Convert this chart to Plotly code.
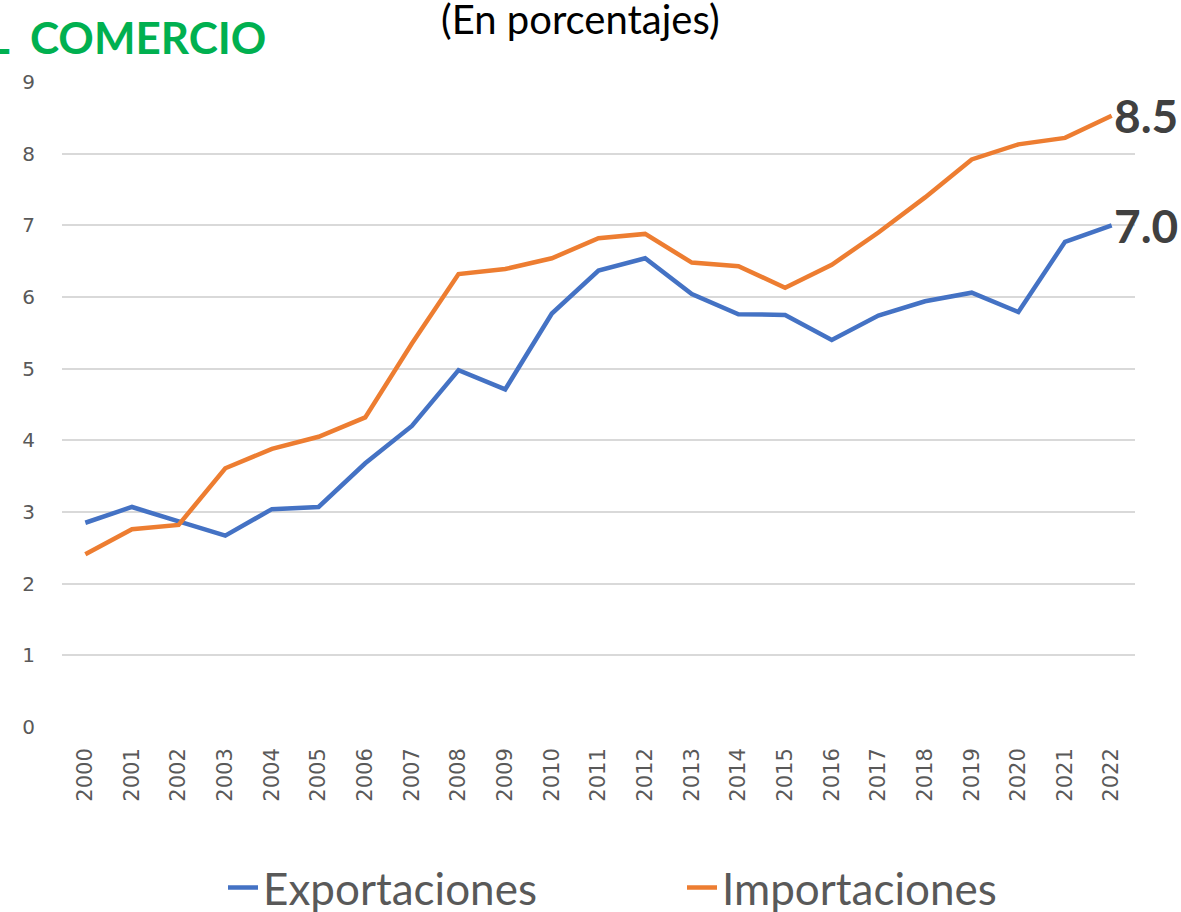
import plotly.graph_objects as go

years = [str(y) for y in range(2000, 2023)]
exportaciones = [2.85, 3.07, 2.87, 2.67, 3.04, 3.07, 3.68, 4.20, 4.98, 4.71, 5.77,
                 6.37, 6.54, 6.04, 5.76, 5.75, 5.40, 5.74, 5.94, 6.06, 5.79, 6.77, 7.00]
importaciones = [2.41, 2.76, 2.82, 3.61, 3.88, 4.05, 4.32, 5.35, 6.32, 6.39, 6.54,
                 6.82, 6.88, 6.48, 6.43, 6.13, 6.45, 6.90, 7.39, 7.92, 8.13, 8.22, 8.53]
end_labels = ["7.0", "8.5"]

BLUE = "#4472C4"
ORANGE = "#ED7D31"
GRAY = "#595959"

fig = go.Figure()
fig.add_trace(go.Scatter(x=years, y=exportaciones, mode="lines", name="Exportaciones",
                         line=dict(color=BLUE, width=4.5)))
fig.add_trace(go.Scatter(x=years, y=importaciones, mode="lines", name="Importaciones",
                         line=dict(color=ORANGE, width=4.5)))

last_idx = len(years) - 1
for series, lab in zip([exportaciones, importaciones], end_labels):
    fig.add_annotation(x=last_idx, y=series[-1], text=f"<b>{lab}</b>", showarrow=False,
                       xanchor="left", yanchor="middle", xshift=0,
                       font=dict(family="Lato", size=46, color="#404040"))

fig.add_annotation(xref="paper", yref="paper", x=(268 - 62) / 1073, y=1 + (82 - 37) / 645,
                   text="<b>L\u00a0\u00a0COMERCIO</b>", showarrow=False, xanchor="right",
                   yanchor="middle", font=dict(family="Lato", size=44, color="#00B050"))
fig.add_annotation(xref="paper", yref="paper", x=(580 - 62) / 1073, y=1 + (82 - 19) / 645,
                   text="(En porcentajes)", showarrow=False, xanchor="center", yanchor="middle",
                   font=dict(family="Lato", size=40, color="#000000"))

fig.update_layout(
    width=1181, height=912,
    margin=dict(l=62, r=46, t=82, b=185, autoexpand=False),
    plot_bgcolor="white", paper_bgcolor="white",
    showlegend=True,
    legend=dict(orientation="h", x=(223 - 62) / 1073, xanchor="left", y=(727 - 888) / 645,
                yanchor="middle", font=dict(family="Lato", size=44, color=GRAY),
                entrywidth=414, bgcolor="rgba(0,0,0,0)"),
    xaxis=dict(type="category", range=[-0.5, 22.5], tickangle=-90, showgrid=False,
               showline=False, ticks="", ticklabelstandoff=16, automargin=False,
               tickfont=dict(family="DejaVu Sans", size=21, color=GRAY)),
    yaxis=dict(range=[0, 9], dtick=1, showgrid=True, gridcolor="#D9D9D9", gridwidth=2,
               zeroline=False, showline=False, ticks="", ticklabelstandoff=26, automargin=False,
               tickfont=dict(family="DejaVu Sans", size=20, color=GRAY)),
)

fig.write_html("out.html", config={"displayModeBar": False},
               post_script="document.body.style.margin='0';document.body.style.overflow='hidden';")
